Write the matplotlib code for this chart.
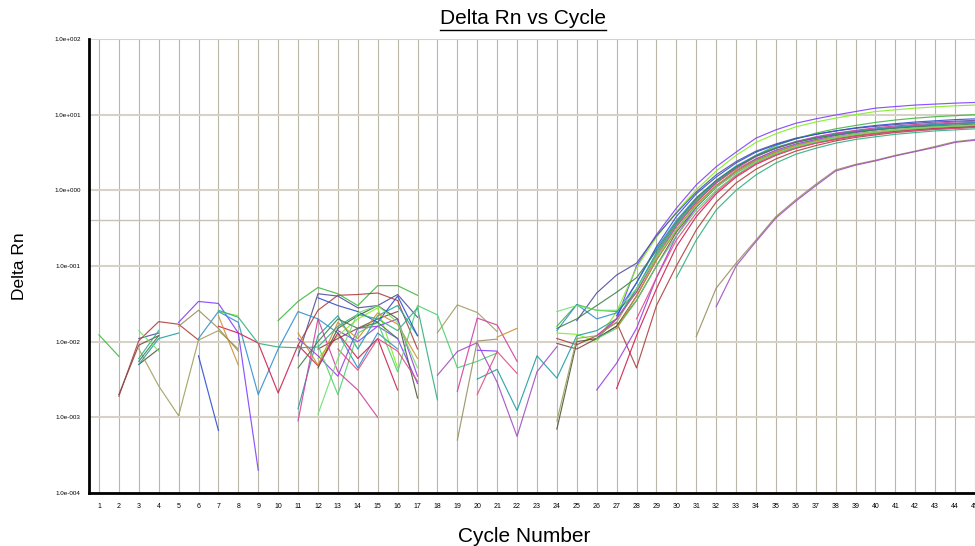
import numpy as np
import matplotlib
matplotlib.use("Agg")
import matplotlib.pyplot as plt
from matplotlib.lines import Line2D

plt.rcParams['font.family'] = ['Liberation Sans', 'DejaVu Sans']

n = None
threshold = 0.4
title = "Delta Rn vs Cycle"
xlabel = "Cycle Number"
ylabel = "Delta Rn"
x_ticks = list(range(1, 46))
y_decades = [-4, -3, -2, -1, 0, 1, 2]

# ---- per-well data (cycles 1..23 baseline, cycles 24..45 amplification) ----
w01_base = [n,n,n,n,.018,.034,.032,.013,.0002,n,n,n,.014,.010,.016,.011,.0028,n,n,.0077,.0075,n,n]
w01_amp = [n,n,.011,.02,.1,.26,.58,1.18,2.05,3.2,4.9,6.3,7.7,8.8,9.9,11.0,12.2,12.8,13.4,13.8,14.2,14.5]
w02_base = [n,n,n,n,n,n,.025,.022,n,n,n,.006,.012,.02,.028,.0045,n,n,n,n,n,n,n]
w02_amp = [.013,.0125,.010,.025,.095,.24,.52,1.02,1.8,2.9,4.3,5.6,6.9,8.0,9.0,10.0,11.0,11.6,12.2,12.7,13.1,13.4]
w03_base = [n,n,.011,.013,n,n,n,n,n,n,.0065,.043,.04,.028,.03,.042,.021,n,n,n,n,n,n]
w03_amp = [n,.019,.044,.076,.109,.25,.5,.95,1.6,2.4,3.3,4.1,4.9,5.5,6.1,6.6,7.0,7.4,7.7,8.0,8.2,8.4]
w04_base = [.0123,.0064,n,n,n,n,n,n,n,.019,.034,.052,.043,.03,.055,.055,.041,n,n,n,n,n,n]
w04_amp = [.016,.031,.026,.025,.045,.14,.34,.7,1.25,2.0,2.9,3.9,4.8,5.7,6.5,7.2,7.9,8.5,9.0,9.4,9.7,10.0]
w05_base = [n,n,n,n,n,.011,.025,.018,.002,.008,.025,.02,.013,.0045,.013,.008,n,n,n,n,n,n,n]
w05_amp = [.014,.031,.02,.024,.06,.17,.4,.8,1.35,2.1,2.9,3.7,4.4,5.0,5.6,6.1,6.5,6.9,7.2,7.5,7.7,7.9]
w06_base = [n,.0019,.0103,.0184,.017,.0105,n,n,n,n,.009,.026,.041,.042,.044,.035,.008,n,n,n,n,n,n]
w06_amp = [.011,.0091,.012,.018,.0045,.03,.1,.3,.7,1.25,1.9,2.6,3.3,3.9,4.5,5.0,5.4,5.8,6.1,6.4,6.6,6.8]
w07_base = [n,.002,.009,.012,n,n,n,n,n,n,n,.008,.011,.015,.02,.025,n,n,n,n,n,n,n]
w07_amp = [.0095,.008,.011,.016,.035,.1,.28,.6,1.1,1.7,2.4,3.1,3.7,4.3,4.8,5.3,5.7,6.0,6.3,6.5,6.7,6.9]
w08_base = [n,n,.005,.008,n,n,n,n,n,n,n,.0045,.015,.022,.03,.02,.0018,n,n,n,n,n,n]
w08_amp = [.0007,.010,.011,.016,.04,.12,.3,.65,1.15,1.8,2.5,3.2,3.9,4.5,5.0,5.5,5.9,6.2,6.5,6.8,7.0,7.2]
w09_base = [n,n,.008,.0026,.00105,.0105,.014,.008,n,n,n,n,n,n,n,n,n,.0131,.0306,.0243,.0136,n,n]
w09_amp = [.0009,.011,.012,.018,.05,.14,.35,.72,1.25,1.9,2.6,3.3,4.0,4.6,5.1,5.6,6.0,6.3,6.6,6.9,7.1,7.3]
w10_base = [n,n,n,n,n,n,.016,.013,.0096,.0021,.009,.0048,.013,.006,.011,.0023,n,n,n,n,n,n,n]
w10_amp = [n,n,n,.0024,.012,.05,.18,.45,.9,1.5,2.2,2.9,3.6,4.2,4.7,5.2,5.6,6.0,6.3,6.6,6.8,7.0]
w11_base = [n,n,n,n,n,n,n,n,n,n,.011,.0065,.0035,.015,.016,.02,.0035,n,n,n,n,n,n]
w11_amp = [n,n,.0023,.0052,.015,.07,.25,.6,1.1,1.8,2.6,3.4,4.1,4.7,5.3,5.8,6.3,6.7,7.0,7.3,7.6,7.8]
w12_base = [n,n,.005,.011,.013,n,n,n,n,n,.0013,.012,.022,.008,.022,.03,.012,n,n,.0032,.0043,.00123,.0065]
w12_amp = [.0033,.012,.014,.02,.05,.15,.36,.75,1.3,2.0,2.8,3.6,4.3,4.9,5.5,6.0,6.4,6.8,7.1,7.4,7.6,7.8]
w13_base = [n,n,n,n,n,n,n,n,n,n,n,.009,.002,.013,.018,.004,.03,.0226,.0045,.0055,.0071,n,n]
w13_amp = [n,n,.011,.015,.035,.1,.25,.55,1.0,1.6,2.3,3.0,3.7,4.3,4.9,5.4,5.8,6.2,6.5,6.8,7.0,7.2]
w14_base = [n,n,n,n,n,n,n,n,n,n,.0009,.02,.004,.0023,.001,n,n,n,.0022,.0205,.0166,.0055,n]
w14_amp = [n,n,.012,.02,.045,.13,.33,.7,1.25,1.95,2.8,3.6,4.4,5.1,5.7,6.2,6.7,7.1,7.4,7.7,8.0,8.2]
w15_base = [n,n,n,n,n,.0065,.00067,n,n,n,n,.038,.03,.025,.018,.04,.012,n,n,n,n,n,n]
w15_amp = [n,n,n,.022,.06,.18,.45,.9,1.5,2.3,3.2,4.0,4.8,5.5,6.1,6.7,7.2,7.6,8.0,8.3,8.6,8.8]
w16_base = [n,n,n,n,n,n,.022,.0049,n,n,.013,.0049,.018,.011,.024,.017,.006,n,n,n,.0115,.015,n]
w16_amp = [n,n,n,.015,.04,.12,.3,.65,1.15,1.8,2.5,3.2,3.9,4.5,5.0,5.5,5.9,6.3,6.6,6.9,7.1,7.3]
w17_base = [n,n,n,n,n,n,n,n,n,n,n,n,.008,.0042,.011,.0075,.003,n,n,.002,.0074,.0038,n]
w17_amp = [n,n,n,n,.02,.07,.22,.5,.95,1.55,2.25,2.95,3.6,4.2,4.7,5.2,5.6,5.9,6.2,6.4,6.6,6.8]
w18_base = [n,n,.006,.014,n,n,.026,.021,.0095,.0085,.0083,.0085,.016,.023,.02,.014,.028,.0017,n,n,n,n,n]
w18_amp = [n,n,n,n,n,n,.07,.22,.55,1.0,1.6,2.3,3.0,3.6,4.2,4.7,5.1,5.5,5.8,6.1,6.3,6.5]
w19_base = [n,n,n,n,.016,.026,.015,.0075,n,n,n,n,n,n,n,n,n,n,.0005,.0102,.0108,n,n]
w19_amp = [n,n,n,n,n,n,n,.0117,.051,.109,.22,.45,.75,1.2,1.86,2.2,2.5,2.9,3.3,3.8,4.4,4.7]
w20_base = [n,n,n,n,n,n,n,n,n,n,n,n,n,n,n,n,n,.0036,.0074,.0097,.0029,.00056,.004]
w20_amp = [.0086,n,n,n,n,n,n,n,.029,.1,.21,.43,.72,1.15,1.8,2.15,2.45,2.85,3.25,3.7,4.3,4.6]
w21_base = [n,n,.0055,.012,n,n,n,n,n,n,.0045,.01,.02,.015,.018,.011,n,n,n,n,n,n,n]
w21_amp = [.015,.02,.03,.045,.07,.16,.38,.78,1.35,2.05,2.85,3.6,4.3,4.9,5.4,5.9,6.3,6.6,6.9,7.1,7.3,7.5]
w22_base = [n,n,.014,.0075,n,n,n,n,n,n,n,.0011,.006,.024,.03,.018,.0045,n,n,n,n,n,n]
w22_amp = [.025,.03,.026,.026,.05,.13,.3,.62,1.1,1.7,2.4,3.1,3.8,4.4,5.0,5.5,5.9,6.3,6.6,6.9,7.1,7.3]

wells = [
    (w01_base, w01_amp, '#8040ff'), (w02_base, w02_amp, '#80f020'),
    (w03_base, w03_amp, '#5050a0'), (w04_base, w04_amp, '#40b840'),
    (w05_base, w05_amp, '#3090d0'), (w06_base, w06_amp, '#b04040'),
    (w07_base, w07_amp, '#804848'), (w08_base, w08_amp, '#505838'),
    (w09_base, w09_amp, '#a0a060'), (w10_base, w10_amp, '#d02050'),
    (w11_base, w11_amp, '#9a40e0'), (w12_base, w12_amp, '#20a0a0'),
    (w13_base, w13_amp, '#50d070'), (w14_base, w14_amp, '#d040a0'),
    (w15_base, w15_amp, '#3050d0'), (w16_base, w16_amp, '#d09030'),
    (w17_base, w17_amp, '#e05080'), (w18_base, w18_amp, '#30b080'),
    (w19_base, w19_amp, '#989060'), (w20_base, w20_amp, '#a050c0'),
    (w21_base, w21_amp, '#408050'), (w22_base, w22_amp, '#70e070'),
]

fig = plt.figure(figsize=(9.75, 5.46), dpi=100)
ax = fig.add_axes([89/975, 1 - 493/546, 1 - 89/975, (493 - 39)/546])

for i, (b, a, c) in enumerate(wells):
    assert len(b) == 23 and len(a) == 22, (i, len(b), len(a))
    vals = np.array(b + a, dtype=float)
    cyc = np.arange(1, len(vals) + 1)
    ax.plot(cyc, vals, color=c, lw=0.85, alpha=0.9, zorder=3)

ax.set_yscale('log')
ax.set_ylim(1e-4, 1e2)
ax.set_xlim(0.5, 44.9)

# grid
for x in x_ticks:
    ax.axvline(x, color='#bab6a8', lw=0.8, zorder=1)
for d in y_decades:
    ax.axhline(10.0 ** d, color='#d6d2c8', lw=1.5, zorder=1)
ax.axhline(threshold, color='#c6c2b6', lw=1.0, zorder=1)

ax.set_xticks(x_ticks)
ax.set_xticklabels([str(v) for v in x_ticks], fontsize=5)
ax.set_yticks([10.0 ** d for d in y_decades])
ax.set_yticklabels([f"1.0e{d:+04d}" for d in y_decades], fontsize=4.5)
ax.yaxis.set_minor_locator(matplotlib.ticker.NullLocator())
ax.tick_params(axis='both', length=0, pad=6)
ax.tick_params(axis='x', pad=7)

for s in ['top', 'right']:
    ax.spines[s].set_visible(False)
for s in ['left', 'bottom']:
    ax.spines[s].set_linewidth(2)
    ax.spines[s].set_color('black')
    ax.spines[s].set_zorder(5)

fig.text(524/975, 1 - 536/546, xlabel, fontsize=15, ha='center', va='center')
fig.text(20/975, 1 - 266/546, ylabel, fontsize=12.5, ha='center', va='center', rotation=90)
t = fig.text(523/975, 1 - 19/546, title, fontsize=15, ha='center', va='center')

fig.canvas.draw()
bb = t.get_window_extent()
x0, x1 = bb.x0 / fig.bbox.width, bb.x1 / fig.bbox.width
yy = (bb.y0 - 1) / fig.bbox.height
fig.add_artist(Line2D([x0, x1], [yy, yy], color='black', lw=1.0, transform=fig.transFigure))

fig.savefig('out.png', dpi=100)
